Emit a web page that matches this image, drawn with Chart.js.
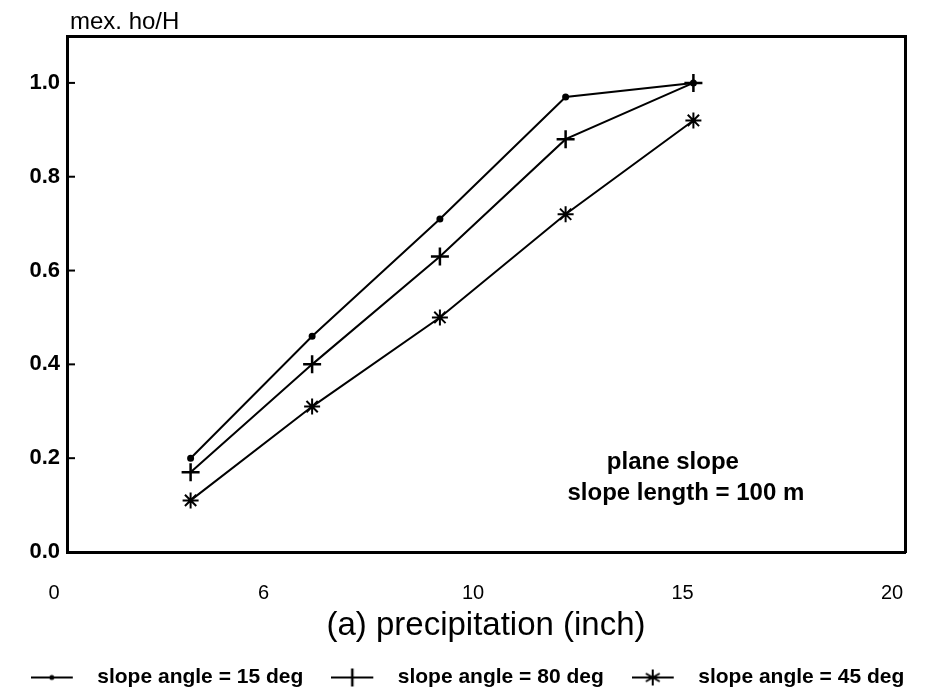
<!DOCTYPE html>
<html>
<head>
<meta charset="utf-8">
<script src="https://cdn.jsdelivr.net/npm/chart.js@4.4.1/dist/chart.umd.min.js"></script>
<style>
  body { margin: 0; background: #fff; }
</style>
</head>
<body>
<canvas id="slopeChart" width="935" height="698"></canvas>
<script>
// precipitation (inch) of each computed run
const precipitation = [2.95, 5.85, 8.9, 11.9, 14.95];

// max. ho/H for each slope angle
const slope15 = [0.20, 0.46, 0.71, 0.97, 1.00];
const slope30 = [0.17, 0.40, 0.63, 0.88, 1.00];
const slope45 = [0.11, 0.31, 0.50, 0.72, 0.92];

const seriesLabels = ['slope angle = 15 deg', 'slope angle = 80 deg', 'slope angle = 45 deg'];

const xTickValues = [0, 5, 10, 15, 20];
const xTickLabels = ['0', '6', '10', '15', '20'];
const yTickValues = [0, 0.2, 0.4, 0.6, 0.8, 1.0];
const yTickLabels = ['0.0', '0.2', '0.4', '0.6', '0.8', '1.0'];

const yHeading = 'mex. ho/H';
const noteLines = ['plane slope', 'slope length = 100 m'];

const FONT = '"Liberation Sans", Arial, sans-serif';

function toPoints(values) {
    return precipitation.map((x, i) => ({ x: x, y: values[i] }));
}

// small "line + marker" glyphs for the legend
function legendIcon(kind) {
    const c = document.createElement('canvas');
    c.width = 56;
    c.height = 20;
    const g = c.getContext('2d');
    g.strokeStyle = '#000';
    g.fillStyle = '#000';
    g.lineWidth = 2;
    g.beginPath();
    g.moveTo(0, 10);
    g.lineTo(42, 10);
    g.stroke();
    const cx = 21;
    if (kind === 'dot') {
        g.beginPath();
        g.arc(cx, 10, 2.5, 0, Math.PI * 2);
        g.fill();
    } else if (kind === 'plus') {
        g.lineWidth = 2.5;
        g.beginPath();
        g.moveTo(cx, 1);
        g.lineTo(cx, 19);
        g.stroke();
    } else {
        g.lineWidth = 2;
        for (let a = 0; a < 3; a++) {
            const ang = Math.PI / 2 + a * Math.PI / 3;
            g.beginPath();
            g.moveTo(cx - 8 * Math.cos(ang), 10 - 8 * Math.sin(ang));
            g.lineTo(cx + 8 * Math.cos(ang), 10 + 8 * Math.sin(ang));
            g.stroke();
        }
    }
    return c;
}

const legendIcons = [legendIcon('dot'), legendIcon('plus'), legendIcon('star')];

const commonLine = {
    borderColor: '#000',
    backgroundColor: '#000',
    pointBorderColor: '#000',
    pointBackgroundColor: '#000',
    borderWidth: 2,
    tension: 0,
    fill: false
};

// inward tick marks, y heading and the note inside the plot
const decorations = {
    id: 'decorations',
    afterDraw(chart) {
        const { ctx, chartArea, scales: { x, y } } = chart;
        ctx.save();
        ctx.strokeStyle = '#000';
        ctx.lineWidth = 2;
        yTickValues.forEach(v => {
            const py = y.getPixelForValue(v);
            ctx.beginPath();
            ctx.moveTo(chartArea.left, py);
            ctx.lineTo(chartArea.left + 8, py);
            ctx.stroke();
        });

        ctx.fillStyle = '#000';
        ctx.textBaseline = 'middle';
        ctx.textAlign = 'left';
        ctx.font = '24px ' + FONT;
        ctx.fillText(yHeading, chartArea.left + 3, 22);

        ctx.textAlign = 'center';
        ctx.font = 'bold 24px ' + FONT;
        ctx.fillText(noteLines[0], x.getPixelForValue(14.46), y.getPixelForValue(0.192));
        ctx.fillText(noteLines[1], x.getPixelForValue(14.77), y.getPixelForValue(0.124));
        ctx.restore();
    }
};

const ctx = document.getElementById('slopeChart').getContext('2d');
const slopeChart = new Chart(ctx, {
    type: 'line',
    data: {
        datasets: [
            {
                ...commonLine,
                label: seriesLabels[0],
                data: toPoints(slope15),
                pointStyle: 'circle',
                pointRadius: 2.5
            },
            {
                ...commonLine,
                label: seriesLabels[1],
                data: toPoints(slope30),
                pointStyle: 'cross',
                pointRadius: 9,
                pointBorderWidth: 2.5
            },
            {
                ...commonLine,
                label: seriesLabels[2],
                data: toPoints(slope45),
                pointStyle: 'star',
                pointRadius: 8,
                pointBorderWidth: 2
            }
        ]
    },
    options: {
        responsive: false,
        animation: false,
        layout: { padding: 0 },
        scales: {
            x: {
                type: 'linear',
                position: 'bottom',
                min: 0,
                max: 20,
                afterBuildTicks: s => { s.ticks = xTickValues.map(v => ({ value: v })); },
                afterFit: s => {
                    s.height = 87;
                    s.paddingLeft = 0;
                    s.paddingRight = 0;
                },
                grid: { display: false, drawTicks: false },
                border: { display: true, width: 3, color: '#000' },
                ticks: {
                    padding: 29,
                    labelOffset: -13,
                    maxRotation: 0,
                    autoSkip: false,
                    color: '#000',
                    font: { family: FONT, size: 20 },
                    callback: (v, i) => xTickLabels[i]
                },
                title: {
                    display: true,
                    text: '(a) precipitation (inch)',
                    color: '#000',
                    font: { family: FONT, size: 33, lineHeight: 1 },
                    padding: { top: 0, bottom: -3 }
                }
            },
            xTop: {
                type: 'linear',
                position: 'top',
                min: 0,
                max: 20,
                afterFit: s => {
                    s.height = 36;
                    s.paddingLeft = 0;
                    s.paddingRight = 0;
                },
                grid: { display: false, drawTicks: false },
                border: { display: true, width: 3, color: '#000' },
                ticks: { display: false }
            },
            y: {
                type: 'linear',
                position: 'left',
                min: 0,
                max: 1.1,
                afterBuildTicks: s => { s.ticks = yTickValues.map(v => ({ value: v })); },
                afterFit: s => { s.width = 67; },
                grid: { display: false, drawTicks: false },
                border: { display: true, width: 3, color: '#000' },
                ticks: {
                    padding: 7,
                    color: '#000',
                    font: { family: FONT, size: 22, weight: 'bold' },
                    callback: (v, i) => yTickLabels[i]
                }
            },
            yRight: {
                type: 'linear',
                position: 'right',
                min: 0,
                max: 1.1,
                afterFit: s => { s.width = 30; },
                grid: { display: false, drawTicks: false },
                border: { display: true, width: 3, color: '#000' },
                ticks: { display: false }
            }
        },
        plugins: {
            tooltip: { enabled: false },
            legend: {
                position: 'bottom',
                labels: {
                    usePointStyle: true,
                    pointStyleWidth: 56,
                    padding: 28,
                    color: '#000',
                    font: { family: FONT, size: 21, weight: 'bold' },
                    generateLabels: chart => chart.data.datasets.map((ds, i) => ({
                        text: ds.label,
                        pointStyle: legendIcons[i],
                        fillStyle: '#000',
                        strokeStyle: '#000',
                        lineWidth: 0,
                        hidden: false,
                        datasetIndex: i,
                        fontColor: '#000'
                    }))
                }
            }
        }
    },
    plugins: [decorations]
});
</script>
</body>
</html>
